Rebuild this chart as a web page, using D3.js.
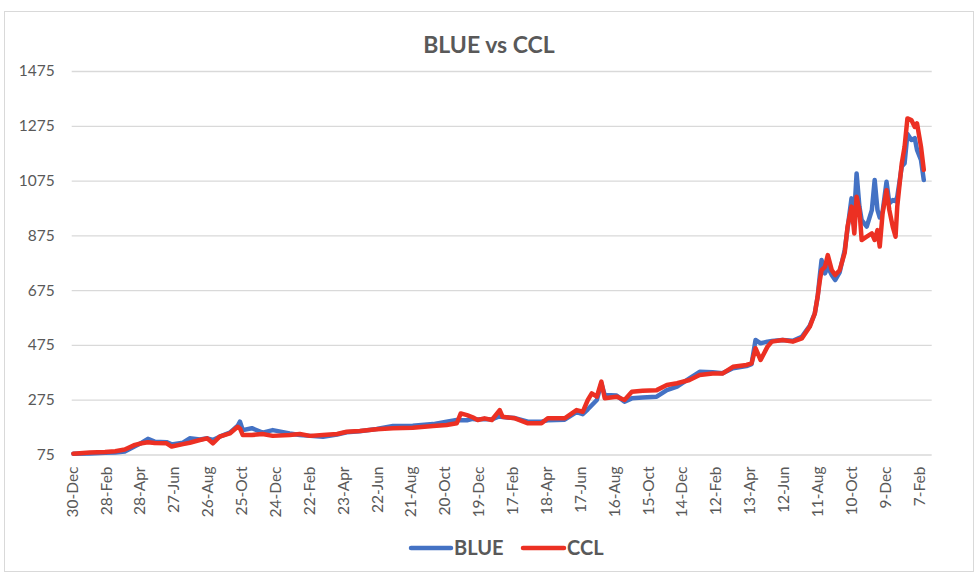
<!DOCTYPE html>
<html>
<head>
<meta charset="utf-8">
<script src="https://cdn.jsdelivr.net/npm/d3@7"></script>
<style>
  html, body { margin: 0; padding: 0; background: #fff; }
  svg { display: block; font-family: Lato, "Open Sans", sans-serif; }
</style>
</head>
<body>
<svg id="chart" width="980" height="576"></svg>
<script>
// ---------- data ----------
const dates = [
  "2020-01-02","2020-01-31","2020-02-27","2020-03-16","2020-04-02","2020-04-20","2020-05-02","2020-05-13","2020-05-25","2020-06-15","2020-06-24","2020-07-14","2020-07-26","2020-08-13","2020-08-26","2020-09-05","2020-09-17","2020-10-05","2020-10-19","2020-10-23","2020-10-28","2020-11-13","2020-12-02","2020-12-20",
  "2021-01-19","2021-02-06","2021-02-24","2021-03-19","2021-04-13","2021-04-30","2021-05-23","2021-06-22","2021-07-21","2021-08-25","2021-09-30","2021-10-24","2021-11-11","2021-11-18","2021-11-29","2021-12-09","2021-12-18","2021-12-30",
  "2022-01-12","2022-01-26","2022-01-31","2022-02-22","2022-03-17","2022-04-10","2022-04-21","2022-05-21","2022-06-11","2022-06-22","2022-07-01","2022-07-08","2022-07-17","2022-07-25","2022-07-31","2022-08-21","2022-09-04","2022-09-17","2022-10-06","2022-10-31","2022-11-18","2022-12-06","2022-12-28",
  "2023-01-15","2023-02-07","2023-02-25","2023-03-15","2023-04-08","2023-04-17","2023-04-24","2023-05-03","2023-05-15","2023-05-23","2023-06-11","2023-06-29","2023-07-15","2023-07-29","2023-08-07","2023-08-12","2023-08-16","2023-08-19","2023-08-25","2023-08-30","2023-09-06","2023-09-12","2023-09-20","2023-09-29","2023-10-04","2023-10-11","2023-10-16","2023-10-20","2023-10-25","2023-10-29","2023-11-07","2023-11-16","2023-11-21","2023-11-26","2023-11-30","2023-12-05","2023-12-12","2023-12-17","2023-12-23","2023-12-28","2023-12-31",
  "2024-01-08","2024-01-13","2024-01-18","2024-01-25","2024-01-31","2024-02-04","2024-02-11","2024-02-16"
];
const blue = [
  78,79,81,82,86,105,118,132,122,120,112,118,134,130,134,128,140,155,180,195,164,171,155,164,
  152,146,143,140,148,156,160,168,179,180,186,195,201,200,200,205,203,205,
  203,215,212,208,195,195,200,202,230,222,240,255,274,335,292,290,268,280,283,286,310,323,353,
  377,375,372,390,398,405,493,481,487,489,493,490,505,545,590,650,730,785,736,760,730,712,740,822,900,1010,955,1101,980,931,907,967,1077,967,940,960,1071,992,1004,1000,1016,
  1126,1138,1245,1223,1230,1187,1150,1077
];
const ccl = [
  78,82,84,87,93,110,116,120,117,116,104,113,118,128,134,116,140,152,176,170,146,146,150,143,
  146,150,143,146,150,158,161,167,171,173,179,183,189,225,219,211,201,207,
  201,237,213,207,189,189,207,207,237,231,274,298,286,341,280,286,274,304,308,310,329,335,347,
  365,371,371,395,402,408,463,420,468,487,493,487,499,541,590,651,712,748,760,803,748,730,748,812,907,980,882,1016,967,858,870,882,858,894,834,955,1040,967,907,870,980,
  1138,1199,1302,1296,1271,1284,1199,1114
];
const seriesNames = ["BLUE", "CCL"];
const yTicks = [75, 275, 475, 675, 875, 1075, 1275, 1475];
const xTickDates = [
  "2019-12-30","2020-02-28","2020-04-28","2020-06-27","2020-08-26","2020-10-25","2020-12-24",
  "2021-02-22","2021-04-23","2021-06-22","2021-08-21","2021-10-20","2021-12-19",
  "2022-02-17","2022-04-18","2022-06-17","2022-08-16","2022-10-15","2022-12-14",
  "2023-02-12","2023-04-13","2023-06-12","2023-08-11","2023-10-10","2023-12-09","2024-02-07"
];
const xDomain = ["2019-12-30", "2024-03-01"];
const title = "BLUE vs CCL";

// ---------- setup ----------
const parse = d3.utcParse("%Y-%m-%d");
const fmt = d3.utcFormat("%-d-%b");
const colors = { BLUE: "#4472C4", CCL: "#EC3023" };
const textColor = "#595959";
const gridColor = "#D9D9D9";

const svg = d3.select("#chart");
const plotL = 71.7, plotR = 931.7, plotT = 71, plotB = 454.5;

const x = d3.scaleUtc().domain(xDomain.map(parse)).range([plotL, plotR]);
const y = d3.scaleLinear().domain([75, 1475]).range([plotB, plotT]);

// outer border
svg.append("rect")
  .attr("x", 4.5).attr("y", 11.5).attr("width", 969).attr("height", 560)
  .attr("fill", "#fff").attr("stroke", gridColor).attr("stroke-width", 1);

// title
svg.append("text")
  .attr("x", 489).attr("y", 53)
  .attr("text-anchor", "middle")
  .attr("font-size", 23).attr("font-weight", "bold")
  .attr("fill", textColor)
  .text(title);

// y grid + labels
const yAxis = d3.axisLeft(y).tickValues(yTicks).tickSize(-(plotR - plotL)).tickPadding(17).tickFormat(d3.format("d"));
const gy = svg.append("g").attr("transform", `translate(${plotL},0)`).call(yAxis);
gy.select(".domain").remove();
gy.selectAll(".tick line").attr("stroke", gridColor).attr("stroke-width", 1.3);
gy.selectAll(".tick text").attr("fill", textColor).attr("font-size", 15.5)
  .attr("font-family", "Lato, 'Open Sans', sans-serif");

// x axis labels
const xAxis = d3.axisBottom(x).tickValues(xTickDates.map(parse)).tickSize(0).tickFormat(fmt);
const gx = svg.append("g").attr("transform", `translate(0,${plotB})`).call(xAxis);
gx.select(".domain").remove();
gx.selectAll(".tick text")
  .attr("fill", textColor).attr("font-size", 15.5)
  .attr("font-family", "Lato, 'Open Sans', sans-serif")
  .attr("text-anchor", "end")
  .attr("transform", "translate(0,12) rotate(-90)")
  .attr("x", 0).attr("y", 0).attr("dy", "0.35em");

// lines
const rows = dates.map((d, i) => ({ date: parse(d), BLUE: blue[i], CCL: ccl[i] }));
seriesNames.forEach(name => {
  const line = d3.line().x(d => x(d.date)).y(d => y(d[name]));
  svg.append("path")
    .datum(rows)
    .attr("fill", "none")
    .attr("stroke", colors[name])
    .attr("stroke-width", 4.5)
    .attr("stroke-linejoin", "round")
    .attr("stroke-linecap", "round")
    .attr("d", line);
});

// legend
const legendItems = [
  { name: "BLUE", x1: 411, x2: 451, tx: 454 },
  { name: "CCL", x1: 523, x2: 564, tx: 567 }
];
const lg = svg.append("g");
legendItems.forEach(it => {
  lg.append("line").attr("x1", it.x1).attr("x2", it.x2).attr("y1", 548).attr("y2", 548)
    .attr("stroke", colors[it.name]).attr("stroke-width", 4.5).attr("stroke-linecap", "round");
  lg.append("text").attr("x", it.tx).attr("y", 555)
    .attr("font-size", 20).attr("font-weight", "bold").attr("fill", textColor)
    .text(it.name);
});
</script>
</body>
</html>
